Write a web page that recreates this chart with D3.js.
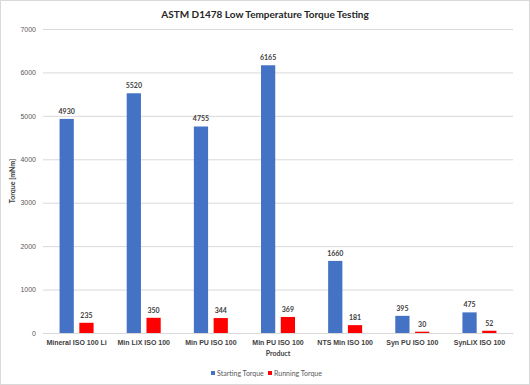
<!DOCTYPE html>
<html>
<head>
<meta charset="utf-8">
<script src="https://cdn.jsdelivr.net/npm/d3@7"></script>
<style>
  body { margin: 0; background: #fff; }
  svg { display: block; font-family: Lato, "Open Sans", sans-serif; }
</style>
</head>
<body>
<div class="canvas"></div>
<script>
const products = ['Mineral ISO 100 Li', 'Min LiX ISO 100', 'Min PU ISO 100', 'Min PU ISO 100',
  'NTS Min ISO 100', 'Syn PU ISO 100', 'SynLiX ISO 100'];
const startingTorque = [4930, 5520, 4755, 6165, 1660, 395, 475];
const runningTorque = [235, 350, 344, 369, 181, 30, 52];
const seriesNames = ['Starting Torque', 'Running Torque'];
const yTicks = [0, 1000, 2000, 3000, 4000, 5000, 6000, 7000];

const colours = ['#4472C4', '#FF0000'];
const dims = { width: 530, height: 385 };
const plot = { left: 43, right: 513, top: 29, bottom: 333 };

const svg = d3.select('.canvas')
  .append('svg')
  .attr('width', dims.width)
  .attr('height', dims.height);

// chart border
svg.append('rect')
  .attr('x', 0.5).attr('y', 0.5)
  .attr('width', dims.width - 1).attr('height', dims.height - 1)
  .attr('fill', '#fff').attr('stroke', '#d9d9d9');

const x = d3.scaleBand()
  .domain(d3.range(products.length))
  .range([plot.left, plot.right]);

const y = d3.scaleLinear()
  .domain([0, 7000])
  .range([plot.bottom, plot.top]);

const inner = d3.scaleBand()
  .domain([0, 1])
  .range([x.bandwidth() / 2 - 17, x.bandwidth() / 2 + 17])
  .paddingInner(0.28);

// gridlines + y labels
const yAxis = d3.axisLeft(y)
  .tickValues(yTicks)
  .tickFormat(d3.format('d'))
  .tickSize(-(plot.right - plot.left))
  .tickPadding(7);

svg.append('g')
  .attr('transform', `translate(${plot.left},0)`)
  .call(yAxis)
  .call(g => g.select('.domain').remove())
  .call(g => g.selectAll('line').attr('stroke', '#d9d9d9'))
  .call(g => g.selectAll('text').attr('fill', '#595959').attr('font-size', 7));

// x labels
const xAxis = d3.axisBottom(x)
  .tickFormat(i => products[i])
  .tickSize(0)
  .tickPadding(7);

svg.append('g')
  .attr('transform', `translate(0,${plot.bottom})`)
  .call(xAxis)
  .call(g => g.select('.domain').attr('stroke', '#d9d9d9'))
  .call(g => g.selectAll('text').attr('fill', '#404040').attr('font-size', 7).attr('font-weight', 'bold'));

const rows = products.map((p, i) => ({ i, values: [startingTorque[i], runningTorque[i]] }));

const groups = svg.append('g').selectAll('g')
  .data(rows)
  .enter().append('g')
  .attr('transform', d => `translate(${x(d.i)},0)`);

const cells = groups.selectAll('g')
  .data(d => d.values.map((v, s) => ({ v, s })))
  .enter().append('g');

cells.append('rect')
  .attr('x', d => inner(d.s))
  .attr('y', d => y(d.v))
  .attr('width', inner.bandwidth())
  .attr('height', d => y(0) - y(d.v))
  .attr('fill', d => colours[d.s]);

cells.append('text')
  .attr('x', d => inner(d.s) + inner.bandwidth() / 2)
  .attr('y', d => y(d.v) - 5)
  .attr('text-anchor', 'middle')
  .attr('font-size', 7)
  .attr('font-weight', 'bold')
  .attr('fill', '#404040')
  .text(d => d.v);

// title
svg.append('text')
  .attr('x', dims.width / 2).attr('y', 18)
  .attr('text-anchor', 'middle')
  .attr('font-size', 10).attr('font-weight', 'bold')
  .attr('fill', '#262626')
  .text('ASTM D1478 Low Temperature Torque Testing');

// axis titles
svg.append('text')
  .attr('transform', `translate(15,${(plot.top + plot.bottom) / 2}) rotate(-90)`)
  .attr('text-anchor', 'middle')
  .attr('font-size', 7).attr('font-weight', 'bold')
  .attr('fill', '#404040')
  .text('Torque [mNm]');

svg.append('text')
  .attr('x', (plot.left + plot.right) / 2).attr('y', 356)
  .attr('text-anchor', 'middle')
  .attr('font-size', 7).attr('font-weight', 'bold')
  .attr('fill', '#404040')
  .text('Product');

// legend
const legend = svg.append('g').attr('transform', 'translate(211,376)');
const items = legend.selectAll('g')
  .data(seriesNames)
  .enter().append('g')
  .attr('transform', (d, i) => `translate(${i * 57},0)`);

items.append('rect')
  .attr('x', 0).attr('y', -5)
  .attr('width', 4).attr('height', 4)
  .attr('fill', (d, i) => colours[i]);

items.append('text')
  .attr('x', 6).attr('y', 0)
  .attr('font-size', 7)
  .attr('fill', '#595959')
  .text(d => d);
</script>
</body>
</html>
